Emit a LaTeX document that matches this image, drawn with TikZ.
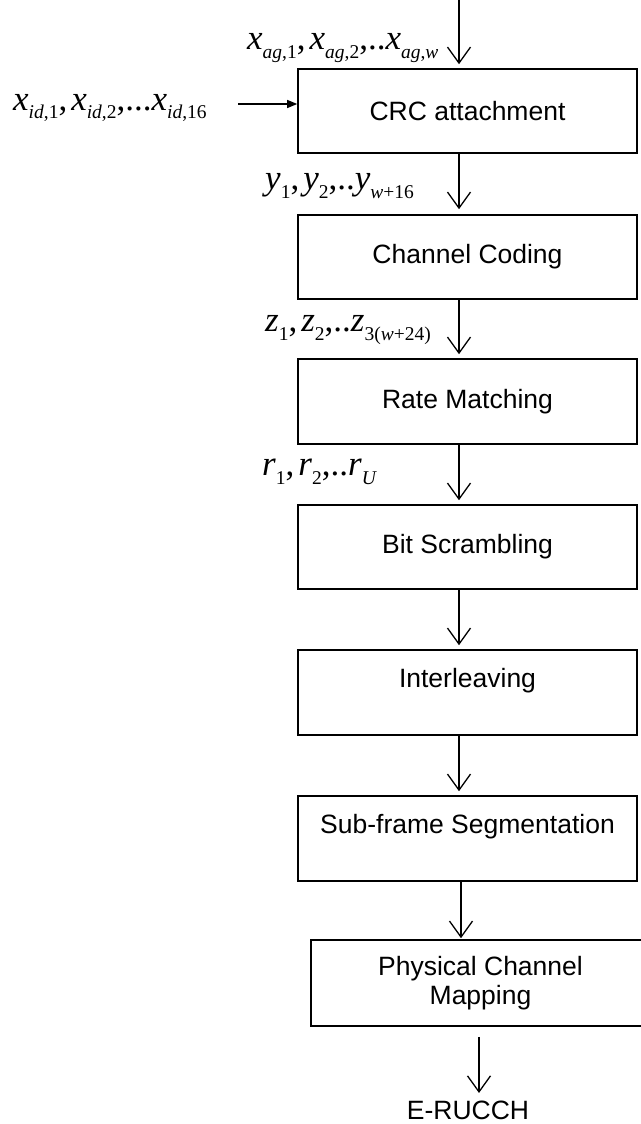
\documentclass[tikz,border=0pt]{standalone}
\usepackage{fontspec}
\setmainfont{Liberation Sans}
\newfontfamily\serifvars{Liberation Serif}
\usetikzlibrary{arrows.meta}

% variable labels set in Times-like italic with lowered subscripts
\newcommand\lblfont{\serifvars\fontsize{35}{35}\selectfont}
\newcommand\lsub[1]{\raisebox{-9pt}{\fontsize{19.5}{19.5}\selectfont #1}}
\newcommand\var[1]{\textit{#1}}
\newcommand\sep{,\hspace{4pt}}

\begin{document}
\begin{tikzpicture}[x=1pt,y=-1pt,
  blk/.style={draw, line width=1.6pt, minimum width=339pt, inner sep=0pt,
    font=\fontsize{26.5}{30}\selectfont, align=center},
  flow/.style={line width=1.2pt, -{Straight Barb[length=16pt,width=23pt,line width=1.3pt]}},
  feed/.style={line width=1.2pt, -{Triangle[length=10pt,width=8pt]}},
  lbl/.style={anchor=base west, inner sep=0pt, font=\lblfont},
]
\useasboundingbox (0,0) rectangle (640,1124);

% processing chain
\node[blk, minimum height=84pt] (crc)   at (467.5,111)   {CRC attachment};
\node[blk, minimum height=84pt] (cc)    at (467.5,257)   {Channel Coding};
\node[blk, minimum height=85pt] (rm)    at (467.5,401.5) {Rate Matching};
\node[blk, minimum height=84pt] (bs)    at (467.5,547)   {Bit Scrambling};
\node[blk, minimum height=85pt] (il)    at (467.5,692.5) {Interleaving\\\mbox{}};
\node[blk, minimum height=85pt] (sfs)   at (467.5,838.5) {Sub-frame Segmentation\\\mbox{}};
\node[blk, minimum height=86pt, font=\fontsize{26.5}{29}\selectfont] (pcm) at (480.5,983) {Physical Channel\\Mapping};
\node[font=\fontsize{26.5}{30}\selectfont, anchor=base] (out) at (468,1119) {E-RUCCH};

% inputs
\coordinate (agin) at (459,0);
\coordinate (idin) at (238,104);
\draw[flow] (agin) -- ([xshift=-8.5pt,yshift=4pt]crc.north);
\draw[feed] (idin) -- (crc.west |- idin);

% connections between stages
\draw[flow] ([xshift=-8.5pt]crc.south) -- ([xshift=-8.5pt,yshift=5pt]cc.north);
\draw[flow] ([xshift=-8.5pt]cc.south)  -- ([xshift=-8.5pt,yshift=4pt]rm.north);
\draw[flow] ([xshift=-8.5pt]rm.south)  -- ([xshift=-8.5pt,yshift=4pt]bs.north);
\draw[flow] ([xshift=-8.5pt]bs.south)  -- ([xshift=-8.5pt,yshift=4pt]il.north);
\draw[flow] ([xshift=-8.5pt]il.south)  -- ([xshift=-8.5pt,yshift=4pt]sfs.north);
\draw[flow] ([xshift=-6.5pt]sfs.south) -- ([xshift=-19.5pt,yshift=1pt]pcm.north);
\draw[flow] ([xshift=-1.5pt,yshift=-10pt]pcm.south) -- ([xshift=11pt,yshift=4pt]out.north);

% signal labels
\node[lbl] (agl) at (247,50)
  {\var{x}\lsub{\var{ag},1}\sep\var{x}\lsub{\var{ag},2},..\var{x}\lsub{\var{ag},\var{w}}};
\node[lbl] (idl) at (13,110)
  {\var{x}\lsub{\var{id},1}\sep\var{x}\lsub{\var{id},2},...\var{x}\lsub{\var{id},16}};
\node[lbl] (yl) at (265,189)
  {\var{y}\lsub{1}\sep\var{y}\lsub{2},..\var{y}\lsub{\var{w}+16}};
\node[lbl] (zl) at (265,331)
  {\var{z}\lsub{1}\sep\var{z}\lsub{2},..\var{z}\lsub{3(\var{w}+24)}};
\node[lbl] (rl) at (262,475)
  {\var{r}\lsub{1}\sep\var{r}\lsub{2},..\var{r}\lsub{\var{U}}};
\end{tikzpicture}
\end{document}
